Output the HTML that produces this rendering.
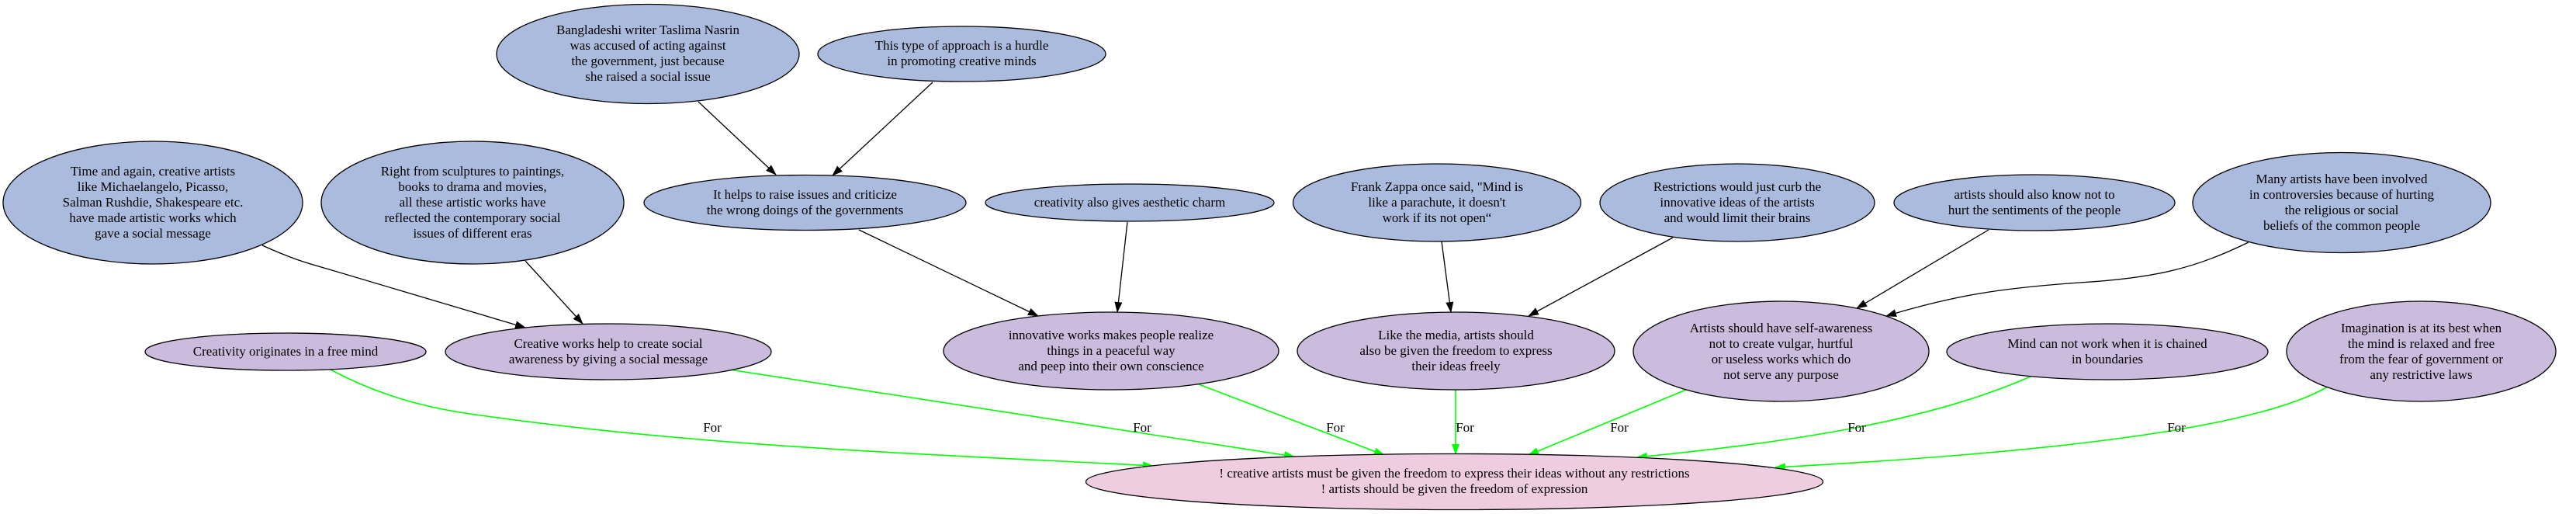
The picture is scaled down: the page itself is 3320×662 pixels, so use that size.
<!DOCTYPE html>
<html><head><meta charset="utf-8"><style>
html,body{margin:0;padding:0;background:#fff;}
svg{display:block;}
text{font-family:"Liberation Serif",serif;font-size:17px;fill:#000;text-anchor:middle;}
.b{fill:#abbbdd;stroke:#000;stroke-width:1.3;}
.p{fill:#cbbbdd;stroke:#000;stroke-width:1.3;}
.m{fill:#efcde0;stroke:#000;stroke-width:1.3;}
.k{fill:none;stroke:#000;stroke-width:1.3;}
.g{fill:none;stroke:#00ff00;stroke-width:1.6;}
</style></head><body>
<svg width="3320" height="662" viewBox="0 0 3320 662" xmlns="http://www.w3.org/2000/svg">
<defs>
<marker id="ak" markerWidth="14" markerHeight="10" refX="13" refY="5" orient="auto" markerUnits="userSpaceOnUse"><path d="M0,0 L14,5 L0,10 z" fill="#000"/></marker>
<marker id="ag" markerWidth="14" markerHeight="10" refX="13" refY="5" orient="auto" markerUnits="userSpaceOnUse"><path d="M0,0 L14,5 L0,10 z" fill="#00ff00"/></marker>
</defs>

<!-- black edges -->
<path class="k" marker-end="url(#ak)" d="M900,131 L1000,225"/>
<path class="k" marker-end="url(#ak)" d="M1202,106 L1073,226"/>
<path class="k" marker-end="url(#ak)" d="M338,316 C380,335 400,340 421,346 L677,422"/>
<path class="k" marker-end="url(#ak)" d="M677,336 L751,417"/>
<path class="k" marker-end="url(#ak)" d="M1107,296 L1338,407"/>
<path class="k" marker-end="url(#ak)" d="M1453,286 L1440,402"/>
<path class="k" marker-end="url(#ak)" d="M1858,311 L1870,402"/>
<path class="k" marker-end="url(#ak)" d="M2156,306 L1970,407"/>
<path class="k" marker-end="url(#ak)" d="M2563,296 L2393,397"/>
<path class="k" marker-end="url(#ak)" d="M2898,312 C2830,345 2780,358 2680,364 C2580,371 2520,380 2431,407"/>

<!-- green edges -->
<path class="g" marker-end="url(#ag)" d="M424,475 C480,505 540,525 620,535 C900,575 1200,585 1486,600"/>
<path class="g" marker-end="url(#ag)" d="M940,476 L1668,588"/>
<path class="g" marker-end="url(#ag)" d="M1545,495 L1784,586"/>
<path class="g" marker-end="url(#ag)" d="M1876,502 L1876,585"/>
<path class="g" marker-end="url(#ag)" d="M2173,502 L1970,586"/>
<path class="g" marker-end="url(#ag)" d="M2617,485 C2480,545 2300,570 2110,589"/>
<path class="g" marker-end="url(#ag)" d="M3000,498 C2920,545 2700,580 2288,602"/>

<text x="918" y="556">For</text>
<text x="1472" y="556">For</text>
<text x="1721" y="556">For</text>
<text x="1888" y="556">For</text>
<text x="2087" y="556">For</text>
<text x="2393" y="556">For</text>
<text x="2805" y="556">For</text>

<!-- top row -->
<ellipse class="b" cx="835" cy="69.5" rx="195" ry="64"/>
<text x="835" y="44">Bangladeshi writer Taslima Nasrin</text>
<text x="835" y="64">was accused of acting against</text>
<text x="835" y="84">the government, just because</text>
<text x="835" y="104">she raised a social issue</text>

<ellipse class="b" cx="1239.5" cy="69.5" rx="185.5" ry="35.5"/>
<text x="1239.5" y="64">This type of approach is a hurdle</text>
<text x="1239.5" y="84">in promoting creative minds</text>

<!-- second row -->
<ellipse class="b" cx="197" cy="261" rx="193" ry="79"/>
<text x="197" y="226">Time and again, creative artists</text>
<text x="197" y="246">like Michaelangelo, Picasso,</text>
<text x="197" y="266">Salman Rushdie, Shakespeare etc.</text>
<text x="197" y="286">have made artistic works which</text>
<text x="197" y="306">gave a social message</text>

<ellipse class="b" cx="609" cy="261" rx="195" ry="79"/>
<text x="609" y="226">Right from sculptures to paintings,</text>
<text x="609" y="246">books to drama and movies,</text>
<text x="609" y="266">all these artistic works have</text>
<text x="609" y="286">reflected the contemporary social</text>
<text x="609" y="306">issues of different eras</text>

<ellipse class="b" cx="1037.5" cy="261" rx="207.5" ry="35.5"/>
<text x="1037.5" y="256">It helps to raise issues and criticize</text>
<text x="1037.5" y="276">the wrong doings of the governments</text>

<ellipse class="b" cx="1456" cy="261" rx="186" ry="24"/>
<text x="1456" y="266">creativity also gives aesthetic charm</text>

<ellipse class="b" cx="1852" cy="261" rx="185.5" ry="50"/>
<text x="1852" y="246">Frank Zappa once said, "Mind is</text>
<text x="1852" y="266">like a parachute, it doesn't</text>
<text x="1852" y="286">work if its not open“</text>

<ellipse class="b" cx="2239" cy="261" rx="177" ry="50"/>
<text x="2239" y="246">Restrictions would just curb the</text>
<text x="2239" y="266">innovative ideas of the artists</text>
<text x="2239" y="286">and would limit their brains</text>

<ellipse class="b" cx="2622" cy="261" rx="181" ry="36"/>
<text x="2622" y="256">artists should also know not to</text>
<text x="2622" y="276">hurt the sentiments of the people</text>

<ellipse class="b" cx="3018" cy="261" rx="192" ry="64.5"/>
<text x="3018" y="236">Many artists have been involved</text>
<text x="3018" y="256">in controversies because of hurting</text>
<text x="3018" y="276">the religious or social</text>
<text x="3018" y="296">beliefs of the common people</text>

<!-- third row -->
<ellipse class="p" cx="368" cy="453" rx="181" ry="24"/>
<text x="368" y="458">Creativity originates in a free mind</text>

<ellipse class="p" cx="784" cy="453" rx="210" ry="36"/>
<text x="784" y="448">Creative works help to create social</text>
<text x="784" y="468">awareness by giving a social message</text>

<ellipse class="p" cx="1432" cy="452" rx="216" ry="50"/>
<text x="1432" y="437">innovative works makes people realize</text>
<text x="1432" y="457">things in a peaceful way</text>
<text x="1432" y="477">and peep into their own conscience</text>

<ellipse class="p" cx="1876.5" cy="452" rx="204.5" ry="50"/>
<text x="1876.5" y="437">Like the media, artists should</text>
<text x="1876.5" y="457">also be given the freedom to express</text>
<text x="1876.5" y="477">their ideas freely</text>

<ellipse class="p" cx="2295.5" cy="452.5" rx="190.5" ry="64.5"/>
<text x="2295.5" y="428">Artists should have self-awareness</text>
<text x="2295.5" y="448">not to create vulgar, hurtful</text>
<text x="2295.5" y="468">or useless works which do</text>
<text x="2295.5" y="488">not serve any purpose</text>

<ellipse class="p" cx="2716" cy="453" rx="207" ry="36"/>
<text x="2716" y="448">Mind can not work when it is chained</text>
<text x="2716" y="468">in boundaries</text>

<ellipse class="p" cx="3120.5" cy="452.5" rx="173.5" ry="64.5"/>
<text x="3120.5" y="428">Imagination is at its best when</text>
<text x="3120.5" y="448">the mind is relaxed and free</text>
<text x="3120.5" y="468">from the fear of government or</text>
<text x="3120.5" y="488">any restrictive laws</text>

<!-- main -->
<ellipse class="m" cx="1874.5" cy="620.5" rx="475" ry="36"/>
<text x="1874.5" y="615">! creative artists must be given the freedom to express their ideas without any restrictions</text>
<text x="1874.5" y="635">! artists should be given the freedom of expression</text>
</svg>
</body></html>
